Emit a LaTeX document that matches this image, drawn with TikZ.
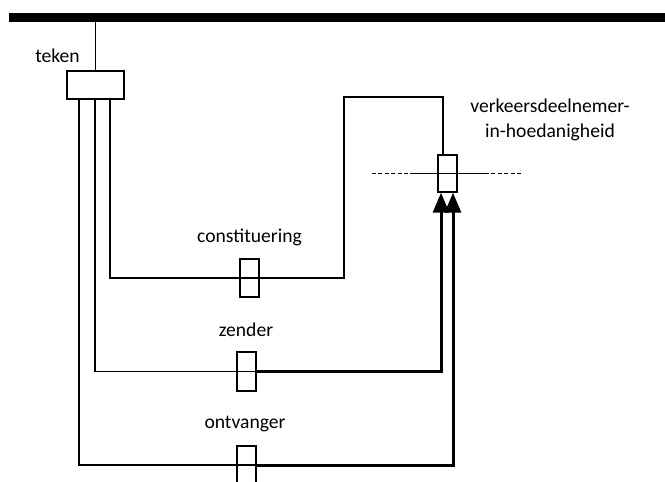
\documentclass[tikz,border=0pt]{standalone}
\usepackage{fontspec}
\setmainfont{Carlito}
\usepackage{tikz}
\usetikzlibrary{arrows.meta, positioning, calc}
\tikzset{
	balk/.style     ={rectangle, fill=black, draw=none, inner sep=0pt, minimum width=661pt, minimum height=9pt},
	blok/.style     ={rectangle, draw=black, line width=1.4pt, inner sep=0pt, minimum width=19pt, minimum height=38pt},
	tekst/.style    ={inner sep=0pt, anchor=base, align=center},
	lijn/.style     ={line width=1.3pt},
	dik/.style      ={line width=3pt, -{Triangle[length=20pt, width=16pt]}},
	streep/.style   ={line width=1.3pt, dash pattern=on 4pt off 2.4pt},
}
\begin{document}
\begin{tikzpicture}[x=1pt, y=-1pt, every node/.style={font=\fontsize{19.6}{25}\selectfont}]
			\useasboundingbox (0,0) rectangle (665,482);
			\node[balk] (strook) at (339.5,17.5) {};
			\node[blok, minimum width=57pt, minimum height=28pt] (tekenblok) at (95.5,85) {};
			\node[blok] (cblok) at (249.5,278) {};
			\node[blok, minimum height=39pt] (zblok) at (246.5,371.5) {};
			\node[blok] (oblok) at (246.5,465) {};
			\node[blok, minimum height=37pt] (vblok) at (447.5,173.5) {};
			% labels
			\node[tekst] (tekenlabel) at (57.5,62) {teken};
			\node[tekst] (clabel) at (249.5,242) {constituering};
			\node[tekst] (zlabel) at (246,336) {zender};
			\node[tekst] (olabel) at (245,428) {ontvanger};
			\node[inner sep=0pt, align=center] (vlabel) at (550,120) {verkeersdeelnemer-\\in-hoedanigheid};
			% verbindingen
			\coordinate (knik) at (344,97);
			\draw[lijn] (strook.south -| tekenblok.north) -- (tekenblok.north);
			\draw[lijn] ([xshift=14.5pt]tekenblok.south) |- (cblok.west) -- (cblok.east) -| (knik) -| ([xshift=-4.5pt]vblok.north);
			\draw[lijn] ([xshift=-0.5pt]tekenblok.south) |- (zblok.west) -- (zblok.east);
			\draw[lijn] ([xshift=-16.5pt]tekenblok.south) |- (oblok.west) -- (oblok.east);
			\draw[dik] (zblok.east) -| ([xshift=-6.5pt]vblok.south);
			\draw[dik] (oblok.east) -| ([xshift=5.5pt]vblok.south);
			% lijn door verkeersdeelnemer
			\coordinate (dl) at (372,173.5); \coordinate (sl) at (410,173.5);
			\coordinate (sr) at (485,173.5); \coordinate (dr) at (523,173.5);
			\draw[streep] (dl) -- (sl); \draw[lijn] (sl) -- (sr); \draw[streep] (sr) -- (dr);
		\end{tikzpicture}
\end{document}
